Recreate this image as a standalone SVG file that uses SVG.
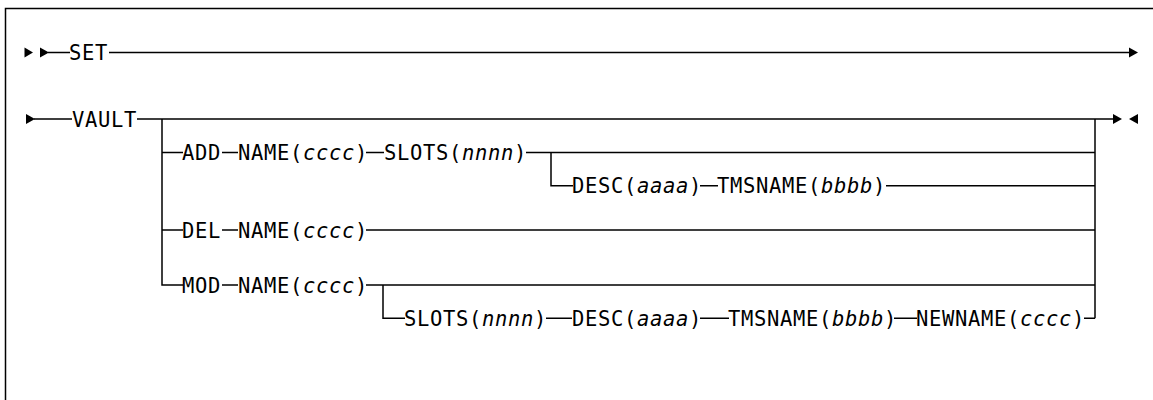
<svg xmlns="http://www.w3.org/2000/svg" width="1153" height="400" viewBox="0 0 1153 400">
<style>
text{font-family:"DejaVu Sans Mono","Liberation Mono",monospace;font-size:20.5px;letter-spacing:0.66px;fill:#000}
.i{font-style:italic}
.c{fill:none;stroke:#000;stroke-width:1.5}
.a{fill:#000}
</style>
<rect x="5.5" y="8.5" width="1200" height="420" fill="#fff" stroke="#000" stroke-width="1.5"/>
<g id="connectors">
<path class="c" d="M48 52.5H70M109 52.5H1130"/>
<path class="c" d="M34 119H72M137 119H1114"/>
<path class="c" d="M162 119V285H183"/>
<path class="c" d="M162 152.5H183M222 152.5H238M366 152.5H384M526 152.5H1095"/>
<path class="c" d="M551 152.5V185.7H573M700 185.7H718M886 185.7H1095"/>
<path class="c" d="M162 230H183M222 230H238M366 230H1095"/>
<path class="c" d="M222 285H238M366 285H1095"/>
<path class="c" d="M383 285V318.3H405M546 318.3H572M700 318.3H729M894 318.3H917M1084 318.3H1095"/>
<path class="c" d="M1095 119V318.3"/>
<polygon class="a" points="24.5,47.5 33,52.5 24.5,57.5"/>
<polygon class="a" points="40,47.5 49,52.5 40,57.5"/>
<polygon class="a" points="1129,47.5 1138,52.5 1129,57.5"/>
<polygon class="a" points="26,114 35,119 26,124"/>
<polygon class="a" points="1113,114 1122,119 1113,124"/>
<polygon class="a" points="1138,114 1129,119 1138,124"/>
</g>
<g id="node-set"><text x="69" y="60">SET</text></g>
<g id="node-vault"><text x="72" y="126.5">VAULT</text></g>
<g id="node-add">
<text x="182" y="160">ADD</text>
<text x="238" y="160">NAME(<tspan class="i">cccc</tspan>)</text>
<text x="384" y="160">SLOTS(<tspan class="i">nnnn</tspan>)</text>
</g>
<g id="node-add-opt">
<text x="572" y="193.2">DESC(<tspan class="i">aaaa</tspan>)</text>
<text x="717" y="193.2">TMSNAME(<tspan class="i">bbbb</tspan>)</text>
</g>
<g id="node-del">
<text x="182" y="237.5">DEL</text>
<text x="238" y="237.5">NAME(<tspan class="i">cccc</tspan>)</text>
</g>
<g id="node-mod">
<text x="182" y="292.5">MOD</text>
<text x="238" y="292.5">NAME(<tspan class="i">cccc</tspan>)</text>
</g>
<g id="node-mod-opt">
<text x="404" y="325.8">SLOTS(<tspan class="i">nnnn</tspan>)</text>
<text x="572" y="325.8">DESC(<tspan class="i">aaaa</tspan>)</text>
<text x="728" y="325.8">TMSNAME(<tspan class="i">bbbb</tspan>)</text>
<text x="916" y="325.8">NEWNAME(<tspan class="i">cccc</tspan>)</text>
</g>
</svg>
